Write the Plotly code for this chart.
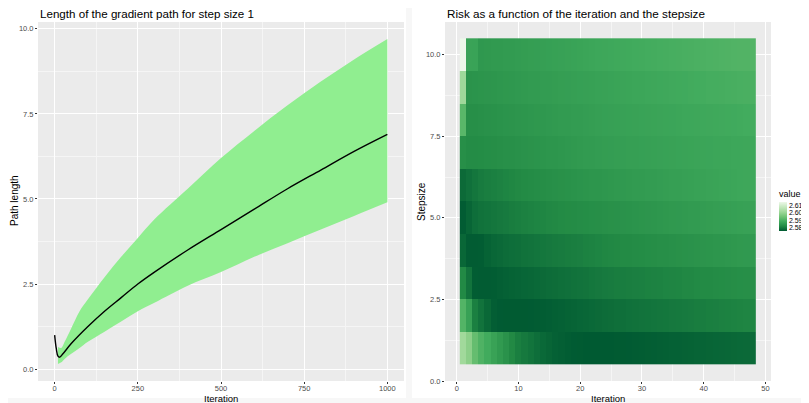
import plotly.graph_objects as go

W, H = 809, 403

# ---------------- data: left panel (path length, step size 1) ----------------
line_iter = [0, 5, 10, 15, 25, 50, 100, 150, 200, 250, 300, 400, 500, 600, 700, 800, 900, 1000]
line_len = [1.0, 0.6, 0.38, 0.35, 0.45, 0.75, 1.25, 1.7, 2.1, 2.5, 2.85, 3.5, 4.1, 4.7, 5.3, 5.85, 6.4, 6.9]

band_iter = [10, 20, 30, 50, 75, 100, 150, 200, 250, 300, 400, 500, 600, 700, 800, 900, 1000]
band_upper = [0.65, 0.62, 0.8, 1.2, 1.7, 2.05, 2.7, 3.3, 3.85, 4.4, 5.3, 6.2, 7.0, 7.75, 8.45, 9.1, 9.7]
band_lower = [0.15, 0.2, 0.3, 0.45, 0.62, 0.8, 1.1, 1.4, 1.7, 1.95, 2.45, 2.85, 3.3, 3.7, 4.1, 4.5, 4.9]

# ---------------- data: right panel (risk heatmap) ----------------
iterations = list(range(1, 49))
stepsizes = list(range(1, 11))

risk_s1 = [2.6017, 2.5985, 2.5931, 2.5902, 2.5883, 2.5865, 2.5848, 2.5832, 2.5814, 2.5800,
           2.5792, 2.5785, 2.5777, 2.5770, 2.5765, 2.5760, 2.5757, 2.5754, 2.5752, 2.5751,
           2.5750, 2.5750, 2.5750, 2.5750, 2.5750, 2.5751, 2.5751, 2.5752, 2.5753, 2.5754,
           2.5755, 2.5756, 2.5757, 2.5758, 2.5759, 2.5760, 2.5761, 2.5762, 2.5763, 2.5764,
           2.5765, 2.5766, 2.5767, 2.5768, 2.5769, 2.5770, 2.5771, 2.5773]
risk_s2 = [2.5907, 2.5863, 2.5802, 2.5784, 2.5769, 2.5756, 2.5752, 2.5751, 2.5751, 2.5751,
           2.5751, 2.5752, 2.5753, 2.5754, 2.5756, 2.5758, 2.5760, 2.5762, 2.5764, 2.5766,
           2.5768, 2.5770, 2.5772, 2.5775, 2.5776, 2.5778, 2.5779, 2.5781, 2.5782, 2.5784,
           2.5785, 2.5787, 2.5788, 2.5789, 2.5791, 2.5792, 2.5794, 2.5795, 2.5797, 2.5798,
           2.5800, 2.5801, 2.5803, 2.5804, 2.5806, 2.5807, 2.5809, 2.5810]
risk_s3 = [2.5815, 2.5784, 2.5754, 2.5753, 2.5753, 2.5754, 2.5757, 2.5760, 2.5762, 2.5764,
           2.5766, 2.5768, 2.5770, 2.5772, 2.5774, 2.5776, 2.5778, 2.5780, 2.5782, 2.5784,
           2.5786, 2.5789, 2.5791, 2.5794, 2.5795, 2.5797, 2.5798, 2.5799, 2.5801, 2.5802,
           2.5804, 2.5805, 2.5806, 2.5808, 2.5809, 2.5810, 2.5812, 2.5813, 2.5815, 2.5816,
           2.5817, 2.5819, 2.5820, 2.5821, 2.5823, 2.5824, 2.5826, 2.5827]
risk_s4 = [2.5768, 2.5753, 2.5753, 2.5754, 2.5762, 2.5768, 2.5771, 2.5774, 2.5777, 2.5779,
           2.5782, 2.5784, 2.5787, 2.5789, 2.5791, 2.5793, 2.5795, 2.5797, 2.5799, 2.5801,
           2.5804, 2.5806, 2.5808, 2.5811, 2.5813, 2.5814, 2.5816, 2.5817, 2.5819, 2.5820,
           2.5822, 2.5823, 2.5825, 2.5826, 2.5828, 2.5829, 2.5831, 2.5832, 2.5834, 2.5836,
           2.5837, 2.5839, 2.5840, 2.5842, 2.5843, 2.5845, 2.5846, 2.5848]
risk_s5 = [2.5753, 2.5765, 2.5777, 2.5782, 2.5785, 2.5788, 2.5791, 2.5794, 2.5797, 2.5800,
           2.5803, 2.5806, 2.5808, 2.5810, 2.5812, 2.5814, 2.5816, 2.5818, 2.5819, 2.5821,
           2.5822, 2.5824, 2.5825, 2.5827, 2.5829, 2.5830, 2.5832, 2.5833, 2.5835, 2.5837,
           2.5838, 2.5840, 2.5841, 2.5843, 2.5845, 2.5846, 2.5848, 2.5849, 2.5851, 2.5853,
           2.5854, 2.5856, 2.5857, 2.5859, 2.5860, 2.5862, 2.5863, 2.5865]
risk_s6 = [2.5772, 2.5780, 2.5788, 2.5795, 2.5799, 2.5802, 2.5805, 2.5808, 2.5811, 2.5814,
           2.5817, 2.5819, 2.5821, 2.5823, 2.5825, 2.5827, 2.5829, 2.5831, 2.5833, 2.5835,
           2.5837, 2.5839, 2.5840, 2.5842, 2.5843, 2.5845, 2.5846, 2.5848, 2.5849, 2.5851,
           2.5852, 2.5853, 2.5855, 2.5856, 2.5858, 2.5859, 2.5861, 2.5862, 2.5864, 2.5865,
           2.5867, 2.5868, 2.5870, 2.5871, 2.5873, 2.5874, 2.5876, 2.5877]
risk_s7 = [2.5825, 2.5819, 2.5819, 2.5820, 2.5822, 2.5823, 2.5825, 2.5827, 2.5828, 2.5830,
           2.5832, 2.5834, 2.5835, 2.5837, 2.5839, 2.5840, 2.5842, 2.5844, 2.5845, 2.5847,
           2.5849, 2.5850, 2.5852, 2.5854, 2.5855, 2.5856, 2.5857, 2.5858, 2.5859, 2.5860,
           2.5861, 2.5862, 2.5863, 2.5864, 2.5865, 2.5866, 2.5867, 2.5868, 2.5869, 2.5870,
           2.5871, 2.5872, 2.5873, 2.5873, 2.5874, 2.5875, 2.5876, 2.5877]
risk_s8 = [2.5915, 2.5825, 2.5826, 2.5828, 2.5830, 2.5831, 2.5833, 2.5835, 2.5836, 2.5838,
           2.5840, 2.5841, 2.5843, 2.5844, 2.5846, 2.5847, 2.5849, 2.5850, 2.5852, 2.5853,
           2.5855, 2.5856, 2.5858, 2.5860, 2.5861, 2.5862, 2.5863, 2.5864, 2.5865, 2.5866,
           2.5867, 2.5868, 2.5869, 2.5870, 2.5871, 2.5872, 2.5874, 2.5875, 2.5876, 2.5877,
           2.5878, 2.5879, 2.5880, 2.5881, 2.5882, 2.5883, 2.5885, 2.5886]
risk_s9 = [2.6014, 2.5834, 2.5835, 2.5837, 2.5838, 2.5840, 2.5841, 2.5843, 2.5844, 2.5846,
           2.5847, 2.5849, 2.5850, 2.5852, 2.5853, 2.5854, 2.5856, 2.5857, 2.5858, 2.5860,
           2.5861, 2.5862, 2.5864, 2.5865, 2.5866, 2.5868, 2.5869, 2.5870, 2.5872, 2.5873,
           2.5874, 2.5876, 2.5877, 2.5878, 2.5880, 2.5881, 2.5882, 2.5884, 2.5885, 2.5886,
           2.5888, 2.5889, 2.5890, 2.5891, 2.5892, 2.5894, 2.5895, 2.5896]
risk_s10 = [2.6150, 2.5867, 2.5866, 2.5844, 2.5845, 2.5847, 2.5848, 2.5850, 2.5851, 2.5853,
            2.5854, 2.5856, 2.5857, 2.5859, 2.5860, 2.5862, 2.5863, 2.5865, 2.5866, 2.5868,
            2.5870, 2.5872, 2.5874, 2.5876, 2.5877, 2.5879, 2.5880, 2.5881, 2.5883, 2.5884,
            2.5886, 2.5887, 2.5888, 2.5890, 2.5891, 2.5892, 2.5894, 2.5895, 2.5896, 2.5898,
            2.5899, 2.5900, 2.5902, 2.5903, 2.5904, 2.5905, 2.5906, 2.5907]

risk = [risk_s1, risk_s2, risk_s3, risk_s4, risk_s5, risk_s6, risk_s7, risk_s8, risk_s9, risk_s10]

risk_min, risk_max = 2.575, 2.615
legend_ticks = [2.58, 2.59, 2.60, 2.61]
legend_text = ["2.58", "2.59", "2.60", "2.61"]

left_xticks = [0, 250, 500, 750, 1000]
left_yticks = [0.0, 2.5, 5.0, 7.5, 10.0]
left_ytext = ["0.0", "2.5", "5.0", "7.5", "10.0"]
right_xticks = [0, 10, 20, 30, 40, 50]
right_yticks = [0.0, 2.5, 5.0, 7.5, 10.0]
right_ytext = ["0.0", "2.5", "5.0", "7.5", "10.0"]

# ---------------- styling helpers ----------------
FONT = "Liberation Sans, Arial, sans-serif"
PANEL_BG = "#ebebeb"
GREENS_R = [[0.0, "#005a32"], [1/6, "#238b45"], [2/6, "#41ab5d"], [3/6, "#74c476"],
            [4/6, "#a1d99b"], [5/6, "#c7e9c0"], [1.0, "#edf8e9"]]

# the page body adds an 8 px margin; positions below are screen pixels
OFF = 8


def px(x):
    return (x - OFF) / W


def py(y):
    return 1 - (y - OFF) / H


fig = go.Figure()

# ribbon
fig.add_trace(go.Scatter(x=band_iter, y=band_lower, mode="lines", line=dict(width=0, color="#90ee90"),
                         line_shape="spline", hoverinfo="skip", showlegend=False, xaxis="x", yaxis="y"))
fig.add_trace(go.Scatter(x=band_iter, y=band_upper, mode="lines", line=dict(width=0, color="#90ee90"),
                         line_shape="spline", fill="tonexty", fillcolor="#90ee90", hoverinfo="skip",
                         showlegend=False, xaxis="x", yaxis="y"))
# mean line
fig.add_trace(go.Scatter(x=line_iter, y=line_len, mode="lines", line=dict(color="black", width=1.4),
                         line_shape="spline", showlegend=False, xaxis="x", yaxis="y"))

# heatmap
fig.add_trace(go.Heatmap(x=iterations, y=stepsizes, z=risk, colorscale=GREENS_R,
                         zmin=risk_min, zmax=risk_max, xaxis="x2", yaxis="y2",
                         colorbar=dict(
                             title=dict(text="value", side="top", font=dict(size=9, color="#000", family=FONT)),
                             x=px(779), xanchor="left", y=py(209), yanchor="middle",
                             len=44, lenmode="pixels", thickness=8, thicknessmode="pixels",
                             xpad=0, ypad=0, outlinewidth=0, ticks="", ticklen=1,
                             tickvals=legend_ticks, ticktext=legend_text,
                             tickfont=dict(size=7, color="#000", family=FONT),
                         )))

axis_common = dict(showline=False, zeroline=False, ticks="outside", ticklen=2, tickwidth=1,
                   tickcolor="#333333", gridcolor="#ffffff", gridwidth=1,
                   tickfont=dict(size=7.5, color="#4d4d4d", family=FONT))

fig.update_layout(
    width=W, height=H,
    margin=dict(l=0, r=0, t=0, b=0, autoexpand=False),
    paper_bgcolor="#f7f7f7",
    plot_bgcolor=PANEL_BG,
    font=dict(family=FONT),
    showlegend=False,
    xaxis=dict(domain=[px(38), px(404)], range=[-50, 1050], tickvals=left_xticks, ticklabelstandoff=-2,
               minor=dict(tickvals=[125, 375, 625, 875], showgrid=True, gridcolor="#f5f5f5", gridwidth=0.6, ticks=""),
               anchor="y", **axis_common),
    yaxis=dict(domain=[py(381), py(22)], range=[-0.35, 10.2], tickvals=left_yticks, ticktext=left_ytext,
               minor=dict(tickvals=[1.25, 3.75, 6.25, 8.75], showgrid=True, gridcolor="#f5f5f5", gridwidth=0.6, ticks=""),
               anchor="x", **axis_common),
    xaxis2=dict(domain=[px(445), px(771)], range=[-1.9, 50.9], tickvals=right_xticks, ticklabelstandoff=-2,
                minor=dict(tickvals=[5, 15, 25, 35, 45], showgrid=True, gridcolor="#f5f5f5", gridwidth=0.6, ticks=""),
                anchor="y2", **axis_common),
    yaxis2=dict(domain=[py(381), py(22)], range=[0, 11], tickvals=right_yticks, ticktext=right_ytext,
                minor=dict(tickvals=[1.25, 3.75, 6.25, 8.75], showgrid=True, gridcolor="#f5f5f5", gridwidth=0.6, ticks=""),
                anchor="x2", **axis_common),
)

# white panel backgrounds (two ggplot panels side by side)
for x0, x1 in [(5, 406), (412, 804)]:
    fig.add_shape(type="rect", xref="paper", yref="paper", x0=px(x0), x1=px(x1), y0=py(398), y1=py(5),
                  fillcolor="white", line=dict(width=0), layer="below")
# grey plot areas on top of the white panels
for x0, x1 in [(38, 404), (445, 771)]:
    fig.add_shape(type="rect", xref="paper", yref="paper", x0=px(x0), x1=px(x1), y0=py(381), y1=py(22),
                  fillcolor=PANEL_BG, line=dict(width=0), layer="below")

ann = []
ann.append(dict(text="Length of the gradient path for step size 1", x=px(38), y=py(13),
                xanchor="left", yanchor="middle", font=dict(size=11.6, color="#000")))
ann.append(dict(text="Risk as a function of the iteration and the stepsize", x=px(445), y=py(13),
                xanchor="left", yanchor="middle", font=dict(size=11.7, color="#000")))
ann.append(dict(text="Iteration", x=px(221), y=py(398.5), xanchor="center", yanchor="middle",
                font=dict(size=9.5, color="#000")))
ann.append(dict(text="Iteration", x=px(608), y=py(398.5), xanchor="center", yanchor="middle",
                font=dict(size=9.5, color="#000")))
ann.append(dict(text="Path length", x=px(14), y=py(201), xanchor="center", yanchor="middle", textangle=-90,
                font=dict(size=10, color="#000")))
ann.append(dict(text="Stepsize", x=px(421), y=py(201), xanchor="center", yanchor="middle", textangle=-90,
                font=dict(size=10, color="#000")))
for a in ann:
    a.update(xref="paper", yref="paper", showarrow=False, align="left")
    a["font"]["family"] = FONT
fig.update_layout(annotations=ann)

fig.write_html("out.html")
